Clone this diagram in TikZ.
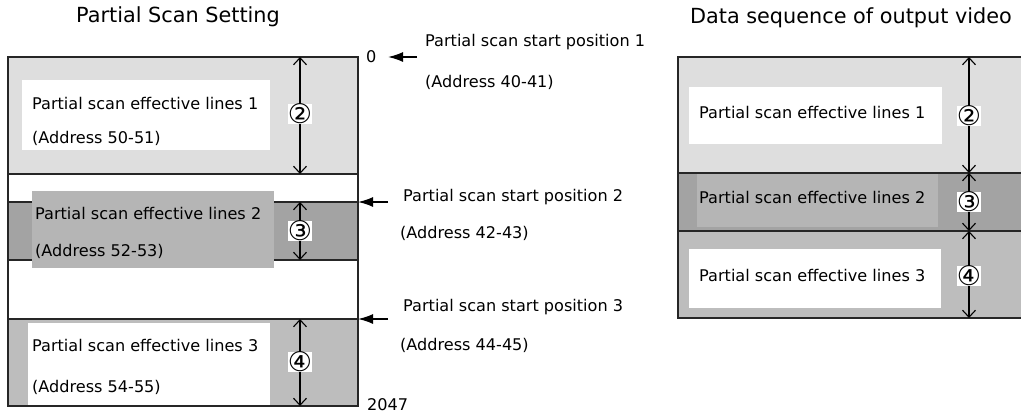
\documentclass[tikz,border=0pt]{standalone}
\usepackage{fontspec}
\setmainfont{DejaVu Sans}
\usetikzlibrary{arrows.meta}

\definecolor{lightdots}{gray}{0.87}
\definecolor{darkdots}{gray}{0.74}
\definecolor{midgray}{gray}{0.64}
\definecolor{boxgray}{gray}{0.71}

\begin{document}
\begin{tikzpicture}[x=1pt,y=-1pt,
  txt/.style={anchor=west,inner sep=0pt,font=\fontsize{16.1}{19}\selectfont},
  title/.style={inner sep=0pt,font=\fontsize{20.8}{25}\selectfont},
  num/.style={fill=white,inner sep=0.3pt,font=\fontsize{27}{30}\selectfont},
  dimline/.style={<->,>={Straight Barb[length=7pt,width=13pt]},line width=1.1pt},
  startarrow/.style={-{Latex[length=15pt,width=10pt]},line width=1.6pt},
  border/.style={line width=1.5pt,draw=black!85}]
\useasboundingbox (0,0) rectangle (1021,418);

% titles
\node[title] (titleL) at (178,17) {Partial Scan Setting};
\node[title] (titleR) at (851,18) {Data sequence of output video};

% bands of the setting
\fill[lightdots] (8,57) rectangle (358,174);
\fill[midgray] (8,202) rectangle (358,260);
\fill[darkdots] (8,319) rectangle (358,406);
\draw[border] (8,202) -- (358,202);
\draw[border] (8,260) -- (358,260);
% text boxes of the setting
\fill[white] (22,80) rectangle (270,150);
\fill[boxgray] (32,191) rectangle (274,268);
\fill[white] (28,323) rectangle (270,406);
% border of the setting
\draw[border] (8,174) -- (358,174);
\draw[border] (8,319) -- (358,319);
\draw[border] (8,57) rectangle (358,406);

% texts of the setting
\node[txt] (eff1) at (32,103) {Partial scan effective lines 1};
\node[txt] (adr1) at (32,138) {(Address 50-51)};
\node[txt] (eff2) at (35,213) {Partial scan effective lines 2};
\node[txt] (adr2) at (35,251) {(Address 52-53)};
\node[txt] (eff3) at (32,345) {Partial scan effective lines 3};
\node[txt] (adr3) at (32,387) {(Address 54-55)};

% widths of the setting
\coordinate (a1) at (300,57);
\coordinate (a2) at (300,174);
\coordinate (a3) at (300,202);
\coordinate (a4) at (300,260);
\coordinate (a5) at (300,319);
\coordinate (a6) at (300,406);
\draw[dimline] (a1) -- (a2);
\draw[dimline] (a3) -- (a4);
\draw[dimline] (a5) -- (a6);
\node[num] (n2) at (300,114) {②};
\node[num] (n3) at (300,231) {③};
\node[num] (n4) at (300,362) {④};

% start positions
\node[txt] (zero) at (366,57) {0};
\node[txt] (pos1) at (425,42) {Partial scan start position 1};
\node[txt] (adp1) at (425,82) {(Address 40-41)};
\node[txt] (pos2) at (403,197) {Partial scan start position 2};
\node[txt] (adp2) at (400,233) {(Address 42-43)};
\node[txt] (pos3) at (403,307) {Partial scan start position 3};
\node[txt] (adp3) at (400,345) {(Address 44-45)};
\node[txt] (last) at (367,405) {2047};
\coordinate (s1) at (417,57);
\coordinate (e1) at (388,57);
\coordinate (s2) at (388,202);
\coordinate (e2) at (358,202);
\coordinate (s3) at (388,319);
\coordinate (e3) at (358,319);
\draw[startarrow] (s1) -- (e1);
\draw[startarrow] (s2) -- (e2);
\draw[startarrow] (s3) -- (e3);

% bands of the output
\fill[lightdots] (678,57) rectangle (1040,173);
\fill[midgray] (678,173) rectangle (1040,231);
\fill[darkdots] (678,231) rectangle (1040,318);
\fill[white] (689,87) rectangle (942,144);
\fill[boxgray] (697,173) rectangle (938,227);
\fill[white] (689,249) rectangle (941,308);
% border of the output
\draw[border] (678,173) -- (1040,173);
\draw[border] (678,231) -- (1040,231);
\draw[border] (678,57) rectangle (1040,318);

% texts of the output
\node[txt] (out1) at (699,112) {Partial scan effective lines 1};
\node[txt] (out2) at (699,197) {Partial scan effective lines 2};
\node[txt] (out3) at (699,275) {Partial scan effective lines 3};

% widths of the output
\coordinate (b1) at (969,57);
\coordinate (b2) at (969,173);
\coordinate (b3) at (969,231);
\coordinate (b4) at (969,318);
\draw[dimline] (b1) -- (b2);
\draw[dimline] (b2) -- (b3);
\draw[dimline] (b3) -- (b4);
\node[num] (m2) at (969,116) {②};
\node[num] (m3) at (969,202) {③};
\node[num] (m4) at (969,276) {④};

\end{tikzpicture}
\end{document}
